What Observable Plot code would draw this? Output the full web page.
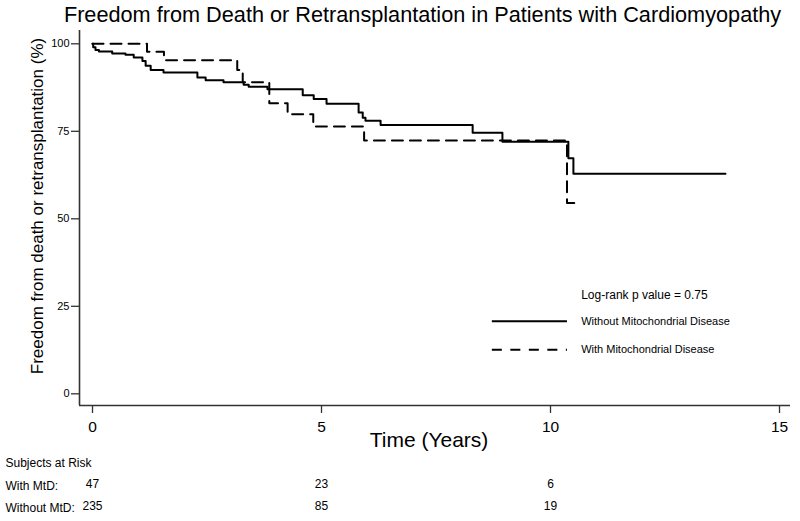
<!DOCTYPE html>
<html>
<head>
<meta charset="utf-8">
<script src="https://cdn.jsdelivr.net/npm/d3@7"></script>
<script src="https://cdn.jsdelivr.net/npm/@observablehq/plot@0.6"></script>
<style>
  html, body { margin: 0; padding: 0; background: #fff; }
</style>
</head>
<body>
<div id="chart"></div>
<script>
// ---- Data ----
const withoutTimes = [0, 0.015, 0.065, 0.14, 0.43, 0.72, 0.90, 1.09, 1.16, 1.27, 1.55, 2.29, 2.47, 2.86, 3.30, 3.41, 3.82, 4.59, 4.83, 5.11, 5.81, 5.90, 5.96, 6.29, 8.30, 8.95, 10.39, 10.50, 13.82];
const withoutSurv  = [100, 99.0, 98.2, 97.8, 97.2, 96.9, 96.1, 95.1, 93.7, 92.5, 91.8, 90.4, 89.6, 89.0, 88.3, 87.7, 87.0, 85.3, 84.2, 82.9, 80.4, 78.9, 78.0, 76.8, 74.6, 72.0, 67.3, 62.9, 62.9];

const withTimes = [0, 1.19, 1.56, 3.16, 3.28, 3.86, 4.26, 4.82, 5.93, 10.36, 10.62];
const withSurv  = [100, 97.7, 95.3, 92.5, 89.0, 83.0, 79.9, 76.4, 72.4, 54.5, 54.5];

const xTicks = [0, 5, 10, 15];
const yTicks = [0, 25, 50, 75, 100];

const riskTimes = [0, 5, 10];
const riskWithMtD = [47, 23, 6];
const riskWithoutMtD = [235, 85, 19];
const riskRowLabels = ["With MtD:", "Without MtD:"];

const titleText = "Freedom from Death or Retransplantation in Patients with Cardiomyopathy";
const yLabelText = "Freedom from death or retransplantation (%)";
const xLabelText = "Time (Years)";
const riskTitle = "Subjects at Risk";
const pValueText = "Log-rank p value = 0.75";
const legendLabels = ["Without Mitochondrial Disease", "With Mitochondrial Disease"];

// ---- Build tables ----
const withoutData = withoutTimes.map((t, i) => ({t, s: withoutSurv[i]}));
const withData = withTimes.map((t, i) => ({t, s: withSurv[i]}));

const xDomain = [-0.284, 15.24];
const yDomain = [-3.34, 103.8];
const axisColor = "#333";
const font = "'Liberation Sans', Arial, sans-serif";

const chart = Plot.plot({
  width: 800,
  height: 521,
  marginTop: 30,
  marginBottom: 116,
  marginLeft: 79,
  marginRight: 10,
  style: {fontFamily: font, background: "#fff", color: "#000", overflow: "visible"},
  x: {domain: xDomain},
  y: {domain: yDomain},
  marks: [
    Plot.ruleX([xDomain[0]], {stroke: axisColor, strokeWidth: 1.6}),
    Plot.ruleY([yDomain[0]], {stroke: axisColor, strokeWidth: 1.6}),
    Plot.axisY({ticks: yTicks, tickSize: 8, tickPadding: 2, fontSize: 11, label: null, stroke: axisColor, strokeWidth: 1.3}),
    Plot.axisX({ticks: xTicks, tickSize: 8, tickPadding: 7, fontSize: 15.5, label: null, stroke: axisColor, strokeWidth: 1.3}),
    Plot.line(withoutData, {x: "t", y: "s", curve: "step-after", stroke: "#000", strokeWidth: 2}),
    Plot.line(withData, {x: "t", y: "s", curve: "step-after", stroke: "#000", strokeWidth: 2, strokeDasharray: "11,7"}),
    // titles
    Plot.text([titleText], {text: d => d, frameAnchor: "top-left", dx: 343, dy: -15, textAnchor: "middle", lineAnchor: "middle", fontSize: 21.7}),
    Plot.text([yLabelText], {text: d => d, frameAnchor: "left", rotate: -90, dx: -42, dy: -12, textAnchor: "middle", lineAnchor: "middle", fontSize: 17}),
    Plot.text([xLabelText], {text: d => d, frameAnchor: "bottom", dx: -6, dy: 35, lineAnchor: "middle", fontSize: 21}),
    // legend
    Plot.text([pValueText], {text: d => d, x: 10.67, y: 28.1, textAnchor: "start", lineAnchor: "middle", fontSize: 12}),
    Plot.ruleY([20.7], {x1: 8.73, x2: 10.37, stroke: "#000", strokeWidth: 2}),
    Plot.ruleY([12.6], {x1: 8.73, x2: 10.37, stroke: "#000", strokeWidth: 2, strokeDasharray: "10,8.5"}),
    Plot.text([legendLabels[0]], {text: d => d, x: 10.67, y: 20.7, textAnchor: "start", lineAnchor: "middle", fontSize: 11}),
    Plot.text([legendLabels[1]], {text: d => d, x: 10.67, y: 12.6, textAnchor: "start", lineAnchor: "middle", fontSize: 11}),
    // risk table
    Plot.text([riskTitle], {text: d => d, frameAnchor: "bottom-left", dx: -74, dy: 58, textAnchor: "start", lineAnchor: "middle", fontSize: 12}),
    Plot.text([riskRowLabels[0]], {text: d => d, frameAnchor: "bottom-left", dx: -74, dy: 81, textAnchor: "start", lineAnchor: "middle", fontSize: 12}),
    Plot.text([riskRowLabels[1]], {text: d => d, frameAnchor: "bottom-left", dx: -74, dy: 103, textAnchor: "start", lineAnchor: "middle", fontSize: 12}),
    Plot.text(riskTimes, {x: d => d, text: (d, i) => String(riskWithMtD[i]), frameAnchor: "bottom", dy: 79, lineAnchor: "middle", fontSize: 12}),
    Plot.text(riskTimes, {x: d => d, text: (d, i) => String(riskWithoutMtD[i]), frameAnchor: "bottom", dy: 101, lineAnchor: "middle", fontSize: 12})
  ]
});

document.getElementById("chart").appendChild(chart);
</script>
</body>
</html>
